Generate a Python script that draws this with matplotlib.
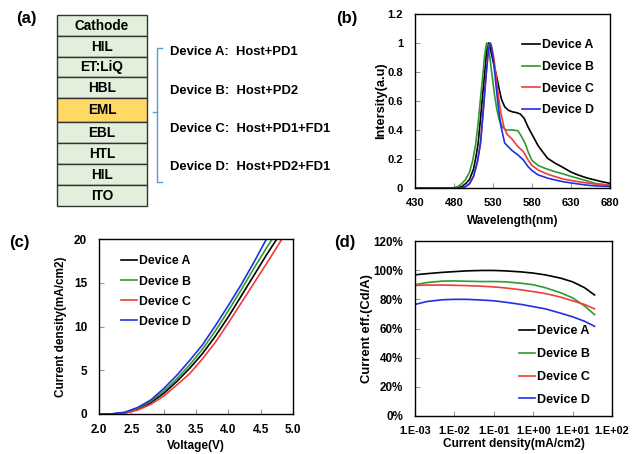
import matplotlib
matplotlib.use("Agg")
import matplotlib.pyplot as plt
import numpy as np
from matplotlib.ticker import PercentFormatter, FuncFormatter, NullLocator

plt.rcParams['font.family'] = ['Liberation Sans', 'DejaVu Sans']
plt.rcParams['font.weight'] = 'bold'
plt.rcParams['axes.labelweight'] = 'bold'

# ---- data ----
devices = ["Device A", "Device B", "Device C", "Device D"]
colors = ["black", "#2E9B2E", "#F03C3C", "#2030E0"]

layers = ["Cathode", "HIL", "ET:LiQ", "HBL", "EML", "EBL", "HTL", "HIL", "ITO"]
recipes = ["Device A:  Host+PD1", "Device B:  Host+PD2",
           "Device C:  Host+PD1+FD1", "Device D:  Host+PD2+FD1"]

# (b) EL spectra
wl_a = [430, 483, 490, 495, 500, 505, 508, 511, 514, 517, 519, 521, 523, 524.5, 526, 529, 532, 535,
        538, 541, 545, 550, 555, 560, 565, 570, 575, 580, 588, 595, 600, 610, 618, 630, 639, 650,
        661, 670, 680]
el_a = [0, 0, 0.01, 0.03, 0.06, 0.13, 0.21, 0.31, 0.48, 0.66, 0.77, 0.9, 0.98, 1.0, 0.98, 0.9, 0.83,
        0.76, 0.68, 0.61, 0.56, 0.535, 0.525, 0.52, 0.51, 0.48, 0.42, 0.37, 0.29, 0.24, 0.205, 0.17,
        0.147, 0.11, 0.09, 0.07, 0.055, 0.043, 0.032]
wl_b = [430, 478, 485, 490, 495, 500, 504, 508, 511, 514, 517, 519, 521, 522, 523.5, 526, 529, 532,
        535, 538, 542, 547, 555, 562, 566, 571, 575, 580, 588, 597, 608, 618, 630, 639, 650, 661,
        670, 680]
el_b = [0, 0, 0.01, 0.03, 0.06, 0.11, 0.19, 0.31, 0.45, 0.62, 0.78, 0.9, 0.98, 1.0, 0.99, 0.9, 0.77,
        0.64, 0.54, 0.47, 0.42, 0.40, 0.40, 0.395, 0.36, 0.31, 0.25, 0.19, 0.155, 0.135, 0.115, 0.1,
        0.08, 0.067, 0.05, 0.032, 0.025, 0.02]
wl_c = [430, 488, 495, 500, 505, 510, 514, 517, 521, 524, 526.5, 528, 531, 534, 537, 540, 544, 548,
        554, 562, 569, 575, 580, 588, 600, 610, 620, 630, 639, 650, 660, 670, 680]
el_c = [0, 0, 0.01, 0.03, 0.08, 0.18, 0.31, 0.5, 0.77, 0.95, 1.0, 0.98, 0.9, 0.77, 0.63, 0.52, 0.42,
        0.37, 0.34, 0.285, 0.25, 0.193, 0.155, 0.124, 0.095, 0.078, 0.062, 0.052, 0.044, 0.035,
        0.028, 0.024, 0.02]
wl_d = [430, 488, 495, 500, 505, 510, 514, 517, 521, 524, 526.5, 528, 531, 534, 537, 540, 545, 554,
        562, 569, 575, 580, 588, 600, 610, 620, 630, 639, 650, 660, 680]
el_d = [0, 0, 0.01, 0.03, 0.08, 0.18, 0.31, 0.5, 0.77, 0.95, 1.0, 0.97, 0.86, 0.7, 0.55, 0.43, 0.31,
        0.26, 0.228, 0.193, 0.147, 0.12, 0.09, 0.068, 0.055, 0.043, 0.035, 0.028, 0.02, 0.015, 0.01]

# (c) J-V
v_a = [2.0, 2.2, 2.4, 2.6, 2.8, 3.0, 3.2, 3.4, 3.6, 3.8, 4.0, 4.2, 4.4, 4.6, 4.75]
j_a = [0, 0, 0.13, 0.55, 1.3, 2.35, 3.7, 5.2, 6.9, 8.9, 11.1, 13.5, 15.9, 18.3, 20.0]
v_b = [2.0, 2.2, 2.4, 2.6, 2.8, 3.0, 3.2, 3.4, 3.6, 3.8, 4.0, 4.2, 4.4, 4.6, 4.68]
j_b = [0, 0.01, 0.16, 0.65, 1.45, 2.6, 4.0, 5.6, 7.4, 9.5, 11.8, 14.2, 16.7, 19.1, 20.0]
v_c = [2.0, 2.2, 2.4, 2.6, 2.8, 3.0, 3.2, 3.4, 3.6, 3.8, 4.0, 4.2, 4.4, 4.6, 4.83]
j_c = [0, 0, 0.1, 0.45, 1.1, 2.05, 3.3, 4.6, 6.3, 8.2, 10.4, 12.7, 15.0, 17.3, 20.0]
v_d = [2.0, 2.2, 2.4, 2.6, 2.8, 3.0, 3.2, 3.4, 3.6, 3.8, 4.0, 4.2, 4.4, 4.59]
j_d = [0, 0.02, 0.2, 0.75, 1.6, 2.9, 4.4, 6.1, 7.9, 10.1, 12.4, 14.8, 17.4, 20.0]

# (d) current efficiency (normalised, %)
jd = [1e-3, 2e-3, 5e-3, 1e-2, 2e-2, 5e-2, 0.1, 0.2, 0.5, 1, 2, 5, 10, 20, 36]
ce_a = [96.8, 97.6, 98.5, 99.0, 99.5, 99.8, 99.8, 99.5, 98.8, 98.0, 96.8, 94.5, 92.0, 88.0, 83.0]
ce_b = [90.0, 91.5, 92.5, 92.6, 92.4, 92.2, 92.2, 92.0, 91.0, 90.0, 88.0, 84.5, 81.0, 75.5, 69.5]
ce_c = [89.5, 89.8, 89.8, 89.6, 89.4, 89.0, 88.5, 87.8, 86.5, 85.3, 84.0, 81.5, 79.0, 76.5, 73.5]
ce_d = [76.5, 78.5, 79.7, 80.0, 80.0, 79.5, 79.0, 78.0, 76.5, 75.0, 73.5, 70.5, 68.0, 65.0, 61.5]

W, H = 635, 454
fig = plt.figure(figsize=(W / 100, H / 100), dpi=100)

# background axes in pixel coordinates for panel (a) and panel letters
bg = fig.add_axes([0, 0, 1, 1])
bg.set_xlim(0, W)
bg.set_ylim(H, 0)
bg.axis('off')

edges = [15, 36, 57, 77, 98, 122, 143, 164, 185, 206]
for i, name in enumerate(layers):
    top, bot = edges[i], edges[i + 1]
    fc = "#FFD966" if name == "EML" else "#E2EFDA"
    bg.add_patch(plt.Rectangle((57, top), 90, bot - top, facecolor=fc,
                               edgecolor="#333333", linewidth=1))
    bg.text(102, (top + bot) / 2 + 0.5, name, ha='center', va='center',
            fontsize=9.8, fontweight='bold')

# bracket
bc = "#5B9BD5"
bg.plot([162, 157, 157, 162], [48, 48, 182, 182], color=bc, lw=1)
bg.plot([157, 153], [112, 112], color=bc, lw=1)
for k, t in enumerate(recipes):
    bg.text(170, [52, 91, 129, 167][k], t, ha='left', va='center',
            fontsize=9.4, fontweight='bold')

for lab, x, y in [("(a)", 16, 18), ("(b)", 336, 18), ("(c)", 9, 243), ("(d)", 334, 242)]:
    bg.text(x, y, lab, ha='left', va='center', fontsize=12, fontweight='bold')


def style(ax, size):
    for s in ax.spines.values():
        s.set_linewidth(1)
        s.set_color('black')
    ax.tick_params(direction='in', length=3.5, width=0.8, color='#999999',
                   labelsize=size)
    ax.tick_params(axis='x', pad=7)
    ax.tick_params(axis='y', pad=8.5)
    for lbl in ax.get_xticklabels() + ax.get_yticklabels():
        lbl.set_fontweight('bold')


def legend(ax, loc, anchor, size, spacing, hl):
    ax.legend(loc=loc, bbox_to_anchor=anchor, frameon=False, handlelength=hl,
              handletextpad=0.15, labelspacing=spacing, borderpad=0, borderaxespad=0,
              prop={'weight': 'bold', 'size': size})


# ---- (b) ----
axb = fig.add_axes([415 / W, 1 - 188 / H, 195 / W, 174 / H])
for x, y, c, n in zip([wl_a, wl_b, wl_c, wl_d], [el_a, el_b, el_c, el_d], colors, devices):
    axb.plot(x, y, color=c, lw=1.2, label=n)
axb.set_xlim(430, 680)
axb.set_ylim(0, 1.2)
axb.set_xticks(np.arange(430, 681, 50))
axb.set_yticks([0, 0.2, 0.4, 0.6, 0.8, 1.0, 1.2])
axb.set_yticklabels(["0", "0.2", "0.4", "0.6", "0.8", "1", "1.2"])
axb.set_xlabel("Wavelength(nm)", fontsize=8.5, labelpad=5)
axb.set_ylabel("Intersity(a.u)", fontsize=9.2, labelpad=0)
style(axb, 8)
legend(axb, 'upper right', (0.918, 0.854), 8.8, 0.79, 1.5)

# ---- (c) ----
axc = fig.add_axes([99 / W, 1 - 414 / H, 194 / W, 175 / H])
for x, y, c, n in zip([v_a, v_b, v_c, v_d], [j_a, j_b, j_c, j_d], colors, devices):
    axc.plot(x, y, color=c, lw=1.2, label=n)
axc.set_xlim(2.0, 5.0)
axc.set_ylim(0, 20)
axc.set_xticks(np.arange(2.0, 5.01, 0.5))
axc.xaxis.set_major_formatter(FuncFormatter(lambda v, p: f"{v:.1f}"))
axc.set_yticks([0, 5, 10, 15, 20])
axc.set_xlabel("Voltage(V)", fontsize=8.5, labelpad=3)
axc.set_ylabel("Current density(mA/cm2)", fontsize=8.5, labelpad=5)
style(axc, 8.5)
legend(axc, 'upper left', (0.113, 0.906), 8.8, 0.66, 1.3)

# ---- (d) ----
axd = fig.add_axes([415 / W, 1 - 416 / H, 197 / W, 175 / H])
for y, c, n in zip([ce_a, ce_b, ce_c, ce_d], colors, devices):
    axd.plot(jd, np.array(y) / 100, color=c, lw=1.2, label=n)
axd.set_xscale('log')
axd.set_xlim(1e-3, 1e2)
axd.set_ylim(0, 1.2)
axd.set_xticks([1e-3, 1e-2, 1e-1, 1e0, 1e1, 1e2])
axd.xaxis.set_minor_locator(NullLocator())
axd.xaxis.set_major_formatter(FuncFormatter(lambda v, p: f"1.E{int(round(np.log10(v))):+03d}"))
axd.set_yticks(np.arange(0, 1.21, 0.2))
axd.yaxis.set_major_formatter(PercentFormatter(1.0, decimals=0))
axd.set_xlabel("Current density(mA/cm2)", fontsize=8.6, labelpad=2)
axd.set_ylabel("Current eff.(Cd/A)", fontsize=9.4, labelpad=0)
style(axd, 8.4)
axd.tick_params(axis='x', labelsize=7.8)
legend(axd, 'lower right', (0.888, 0.059), 9, 0.86, 1.3)

fig.savefig("out.png", dpi=100)
